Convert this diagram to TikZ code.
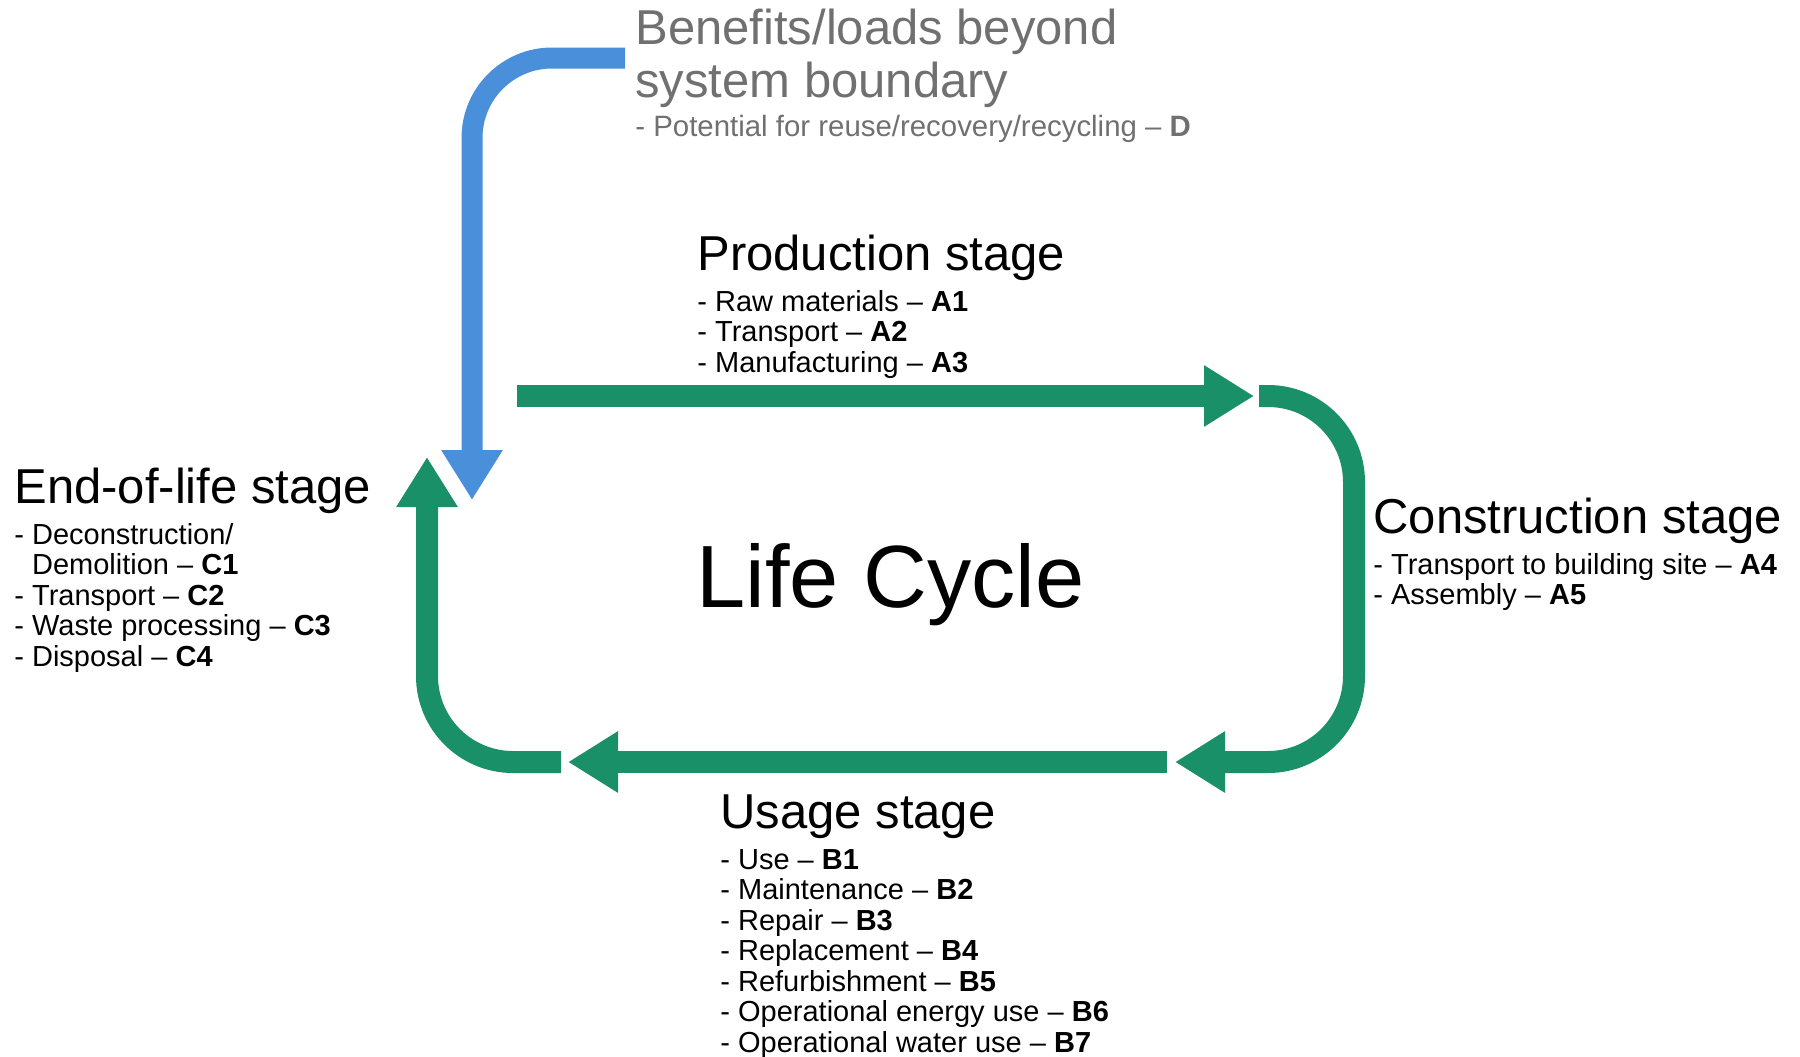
\documentclass[tikz,border=0pt]{standalone}
\usepackage{fontspec}
\setmainfont{Liberation Sans}
\usepackage{xcolor}
\usetikzlibrary{arrows.meta,positioning}
\definecolor{lcgreen}{HTML}{1A9068}
\definecolor{lcblue}{HTML}{4A8FD9}
\definecolor{lcgray}{HTML}{707070}

\begin{document}
\begin{tikzpicture}[x=0.5pt, y=-0.5pt, every node/.style={inner sep=0pt, align=left},
  stage/.style={anchor=base west, font=\fontsize{24.5}{25}\selectfont},
  items/.style={anchor=north west, font=\fontsize{14.5}{15.25}\selectfont},
  flow/.style={line width=11pt, draw=lcgreen, -{Triangle[length=25pt,width=29pt]}},
  turnflow/.style={flow, rounded corners=43pt}]
\useasboundingbox (0,0) rectangle (1800,1056);

\coordinate (dstart) at (625,58);
\coordinate (dend) at (472,500);
\coordinate (pstart) at (517,396);
\coordinate (pend) at (1254,396);
\coordinate (cstart) at (1259,396);
\coordinate (ccorner) at (1354,762);
\coordinate (cend) at (1175,762);
\coordinate (ustart) at (1167,762);
\coordinate (uend) at (568,762);
\coordinate (estart) at (561,762);
\coordinate (eend) at (427,457);

\draw[turnflow,draw=lcblue,line width=10.5pt,rounded corners=40pt] (dstart) -| (dend);
\draw[flow] (pstart) -- (pend);
\draw[turnflow] (cstart) -| (ccorner) -- (cend);
\draw[flow] (ustart) -- (uend);
\draw[turnflow] (estart) -| (eend);

\node[anchor=north west,font=\fontsize{24.5}{24.5}\selectfont,text=lcgray] (ben) at (635,9) {\strut Benefits/loads beyond\\system boundary};
\node[items,text=lcgray,below=3.5pt of ben.south west,anchor=north west,font=\fontsize{14.7}{15.25}\selectfont] (benlist) {\strut- Potential for reuse/recovery/recycling – \textbf{D}};

\node[stage] (prod) at (697,270) {Production stage};
\node[items,below=9.8pt of prod.base west,anchor=north west] (prodlist) {\strut- Raw materials – \textbf{A1}\\- Transport – \textbf{A2}\\- Manufacturing – \textbf{A3}};

\node[stage] (cons) at (1373,533) {Construction stage};
\node[items,below=9.8pt of cons.base west,anchor=north west] (conslist) {\strut- Transport to building site – \textbf{A4}\\- Assembly – \textbf{A5}};

\node[stage] (use) at (720,828) {Usage stage};
\node[items,below=9.8pt of use.base west,anchor=north west] (uselist) {\strut- Use – \textbf{B1}\\- Maintenance – \textbf{B2}\\- Repair – \textbf{B3}\\- Replacement – \textbf{B4}\\- Refurbishment – \textbf{B5}\\- Operational energy use – \textbf{B6}\\- Operational water use – \textbf{B7}};

\node[stage] (eol) at (14,503) {End-of-life stage};
\node[items,below=9.8pt of eol.base west,anchor=north west] (eollist) {\strut- Deconstruction/\\\hphantom{- }Demolition – \textbf{C1}\\- Transport – \textbf{C2}\\- Waste processing – \textbf{C3}\\- Disposal – \textbf{C4}};

\node[anchor=base west,font=\fontsize{44.2}{46}\selectfont] (life) at (696,607) {Life Cycle};
\end{tikzpicture}
\end{document}
